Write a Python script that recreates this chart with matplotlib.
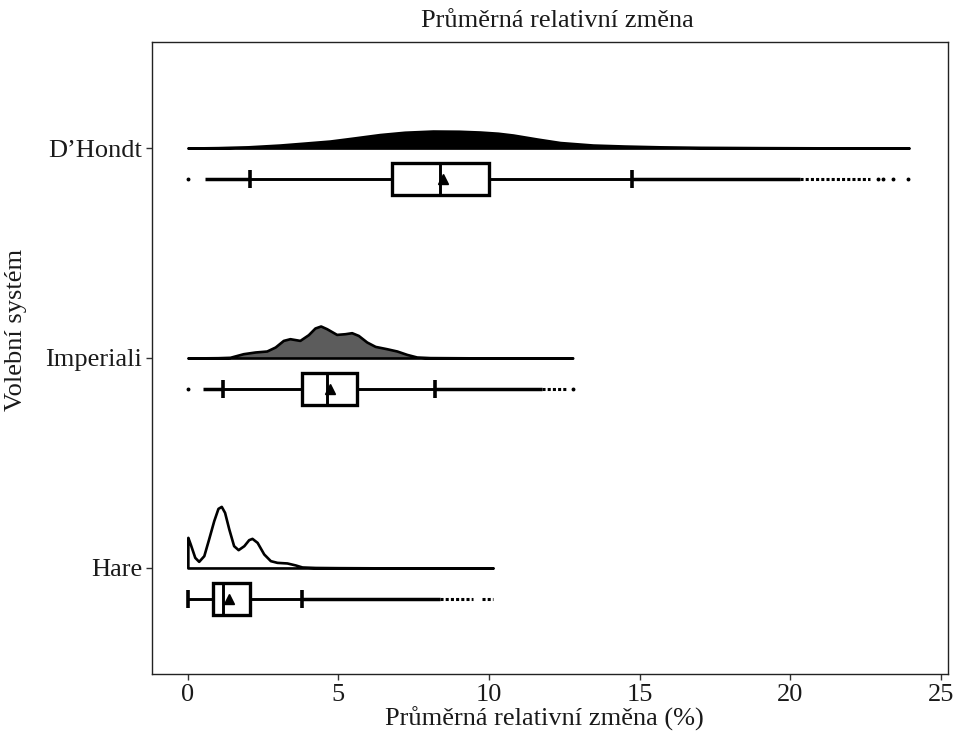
import numpy as np
import matplotlib.pyplot as plt
from matplotlib.patches import Rectangle

plt.rcParams['font.family'] = ['Liberation Serif', 'DejaVu Serif']

# --- DATA ---
systemy = ['Hare', 'Imperiali', 'D’Hondt']
vyplne = ['white', '#5c5c5c', 'black']

# hustota: x [%] a výška křivky (px nad základnou)
hare_x = [0.0, 0.08, 0.23, 0.36, 0.53, 0.69, 0.86, 1.00, 1.11, 1.22, 1.36, 1.52, 1.67,
          1.86, 2.02, 2.13, 2.30, 2.52, 2.74, 2.96, 3.29, 3.57, 3.79, 4.23, 5.0, 6.5, 10.14]
hare_h = [30.6, 24.0, 10.6, 6.6, 12.3, 29.0, 47.3, 59.6, 61.6, 55.6, 39.0, 22.3, 18.3,
          22.3, 28.3, 29.6, 25.6, 14.0, 7.3, 5.6, 5.0, 3.0, 1.0, 0.5, 0.3, 0.1, 0.0]

imp_x = [0.0, 1.0, 1.40, 1.84, 2.23, 2.62, 2.90, 3.17, 3.39, 3.72, 4.00, 4.22, 4.41, 4.61,
         4.94, 5.22, 5.44, 5.66, 5.94, 6.22, 6.60, 6.94, 7.27, 7.60, 8.04, 9.5, 12.78]
imp_h = [0.0, 0.3, 0.7, 4.3, 6.0, 7.0, 11.0, 17.6, 19.3, 17.6, 23.3, 30.0, 32.0, 29.3,
         23.6, 24.3, 25.3, 22.6, 16.0, 11.6, 9.3, 7.0, 3.6, 1.0, 0.4, 0.15, 0.0]

dh_x = [0.0, 1.0, 2.0, 3.06, 3.9, 4.72, 5.5, 6.38, 7.2, 8.14, 9.0, 9.7, 10.3, 10.8,
        11.6, 12.36, 13.45, 14.5, 15.68, 17.0, 19.0, 21.0, 23.95]
dh_h = [0.0, 0.4, 1.2, 3.0, 5.0, 7.0, 10.0, 13.5, 15.8, 17.0, 16.8, 16.0, 14.8, 13.0,
        9.0, 5.5, 3.0, 2.0, 1.2, 0.7, 0.4, 0.2, 0.0]

# boxplot: Q1, medián, Q3, průměr, dolní vous, horní vous
hare_box = [0.85, 1.18, 2.07, 1.38, 0.00, 3.80]
imp_box = [3.78, 4.61, 5.61, 4.72, 1.18, 8.21]
dh_box = [6.79, 8.37, 10.01, 8.48, 2.07, 14.74]

# odlehlé hodnoty: husté úseky, řidší úseky, jednotlivé body
hare_huste = [(3.80, 8.37)]
hare_ridke = [(8.37, 9.48), (9.76, 10.14)]
hare_body = []
imp_huste = [(0.51, 1.18), (8.21, 11.75)]
imp_ridke = [(11.75, 12.58)]
imp_body = [0.0, 12.78]
dh_huste = [(0.57, 2.07), (14.74, 20.33)]
dh_ridke = [(20.33, 22.65)]
dh_body = [0.0, 22.92, 23.08, 23.41, 23.91]

hustoty = [(hare_x, hare_h), (imp_x, imp_h), (dh_x, dh_h)]
boxy = [hare_box, imp_box, dh_box]
huste = [hare_huste, imp_huste, dh_huste]
ridke = [hare_ridke, imp_ridke, dh_ridke]
body = [hare_body, imp_body, dh_body]

# --- vzhled ---
PX = 1 / 210.0      # 1 px v jednotkách osy y
BOX_POSUN = 0.148
BOX_PUL = 0.076
CAP_PUL = 0.042

fig = plt.figure(figsize=(9.55, 7.42), dpi=100)
ax = fig.add_axes([152 / 955, 1 - 674 / 742, 796 / 955, 632 / 742])

for i, nazev in enumerate(systemy):
    y0 = i + 1
    hx, hh = hustoty[i]
    hx = np.array(hx)
    hh = np.array(hh) * PX
    ax.fill_between(hx, y0, y0 + hh, facecolor=vyplne[i], edgecolor='black',
                    linewidth=1.9, joinstyle='round', zorder=2)

    q1, med, q3, prumer, wlo, whi = boxy[i]
    yb = y0 - BOX_POSUN
    for a, b in huste[i]:
        ax.plot([a, b], [yb, yb], color='black', lw=2.5, solid_capstyle='butt', zorder=2)
    for a, b in ridke[i]:
        ax.plot([a, b], [yb, yb], color='black', lw=2.2, linestyle=(0, (1.0, 0.7)), zorder=2)
    if body[i]:
        ax.plot(body[i], [yb] * len(body[i]), 'o', color='black', ms=1.8, zorder=2)

    ax.plot([wlo, q1], [yb, yb], color='black', lw=2.1, zorder=2)
    ax.plot([q3, whi], [yb, yb], color='black', lw=2.1, zorder=2)
    ax.vlines([wlo, whi], yb - CAP_PUL, yb + CAP_PUL, color='black', lw=2.6, zorder=3)
    ax.add_patch(Rectangle((q1, yb - BOX_PUL), q3 - q1, 2 * BOX_PUL, facecolor='white',
                           edgecolor='black', lw=2.4, zorder=3))
    ax.plot([med, med], [yb - BOX_PUL, yb + BOX_PUL], color='black', lw=2.1, zorder=4)
    ax.plot([prumer], [yb], '^', color='black', ms=6.5, zorder=5)

ax.set_xlim(-1.19, 25.24)
ax.set_ylim(0.495, 3.505)
ax.set_xticks([0, 5, 10, 15, 20, 25])
ax.set_yticks([1, 2, 3])
ax.set_yticklabels(systemy)
ax.tick_params(labelsize=19, length=4, width=1, color='#333333', labelcolor='#1a1a1a', pad=3)
for s in ax.spines.values():
    s.set_linewidth(1.0)
    s.set_color('#222222')

fig.text(557 / 955, 1 - 21 / 742, 'Průměrná relativní změna', ha='center', va='center',
         fontsize=19, color='#1a1a1a')
fig.text(544 / 955, 1 - 719 / 742, 'Průměrná relativní změna (%)', ha='center', va='center',
         fontsize=19, color='#1a1a1a')
fig.text(16 / 955, 1 - 330 / 742, 'Volební systém', ha='center', va='center', rotation=90,
         fontsize=19, color='#1a1a1a')

fig.savefig('out.png', dpi=100)
